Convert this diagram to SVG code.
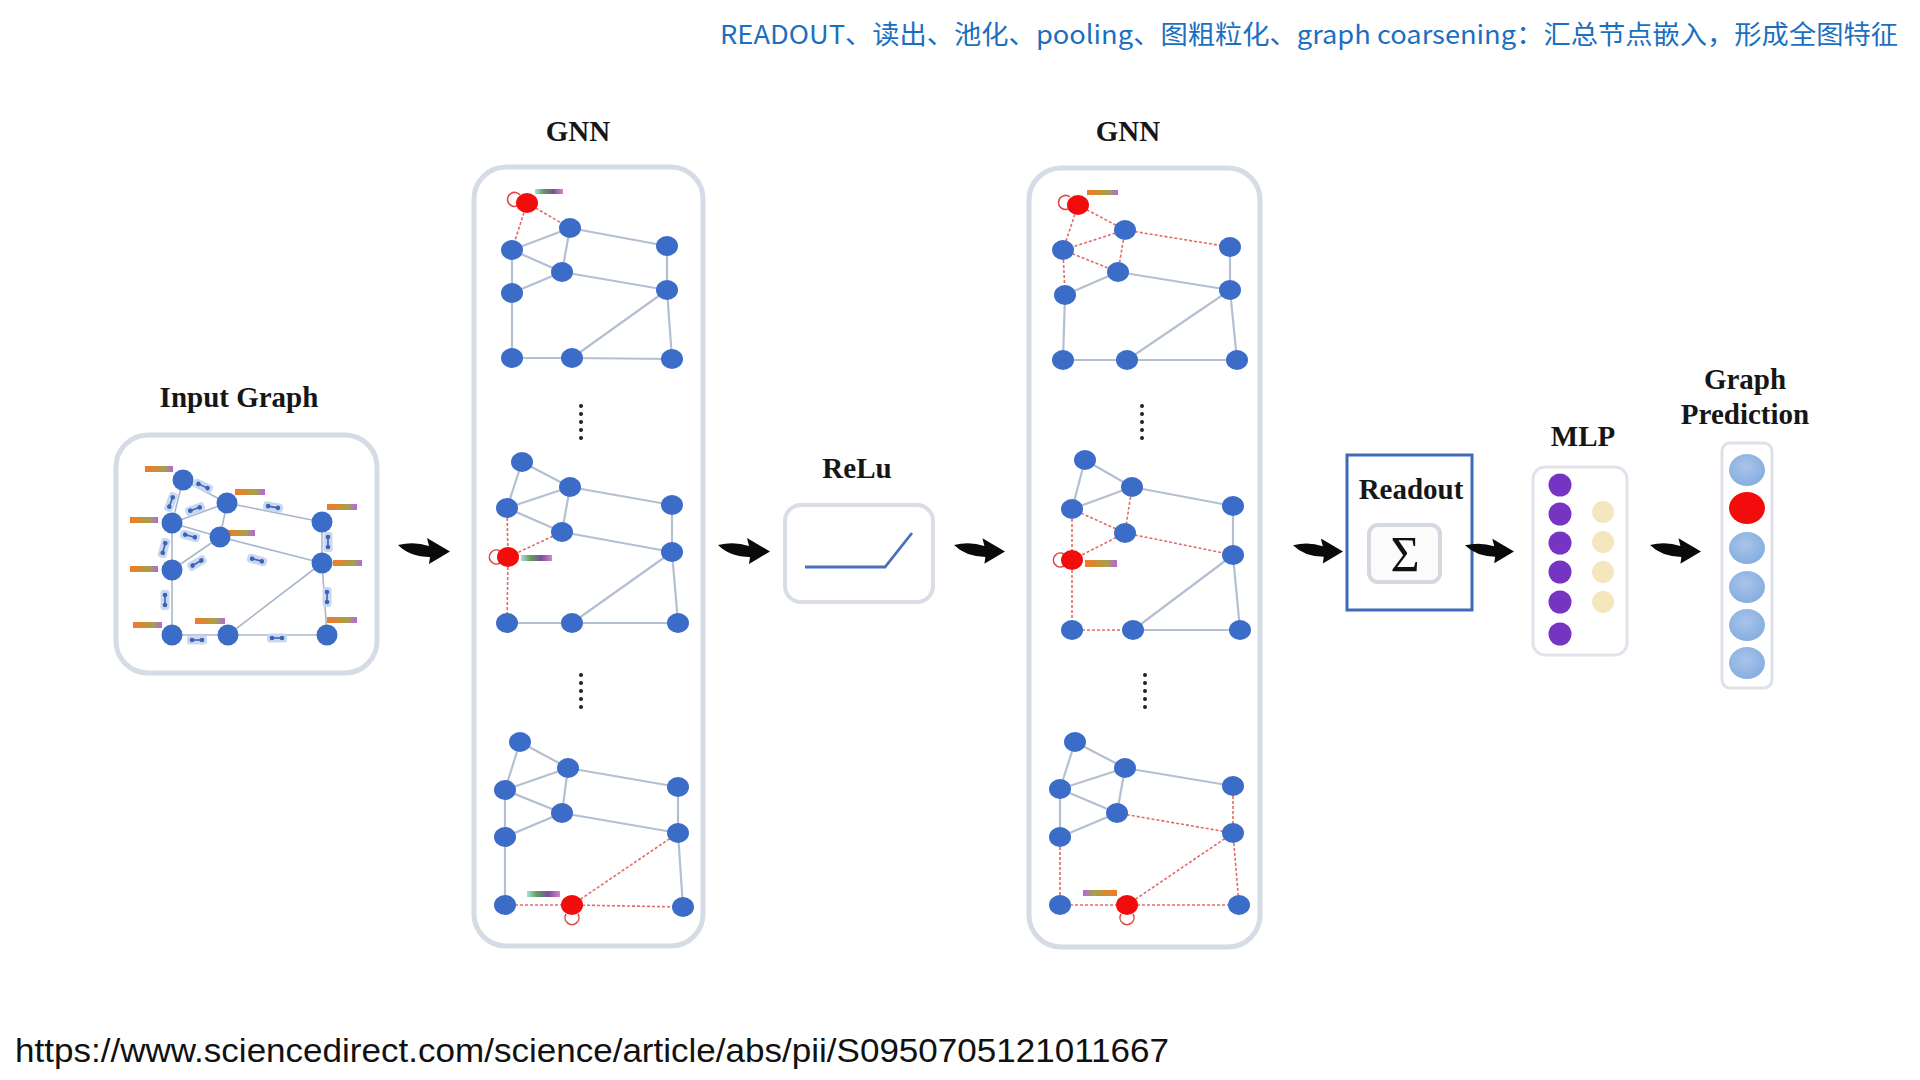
<svg xmlns="http://www.w3.org/2000/svg" xmlns:xlink="http://www.w3.org/1999/xlink" width="1920" height="1080" viewBox="0 0 1920 1080">
<style>
.lbl{font-family:"Liberation Serif","Times New Roman",serif;font-weight:bold;font-size:29px;fill:#161616;text-anchor:middle}
.panel{fill:#fff;stroke:#d6dce6;stroke-width:5}
.e{stroke:#b4c0d2;stroke-width:2.2;fill:none}
.ie{stroke:#a9b7cc;stroke-width:1.6;fill:none}
.rd{stroke:#e36a6a;stroke-width:1.6;stroke-dasharray:3 2;fill:none}
.n{fill:#3b6cc7}
.r{fill:#f20c0c}
.loop{fill:none;stroke:#e04848;stroke-width:1.6}
.dot{fill:#222}
.ico{fill:#c9d8f0}
.icl{stroke:#3c63b6;stroke-width:1.6}
</style>
<defs>
<linearGradient id="fb" x1="0" x2="1" y1="0" y2="0">
<stop offset="0" stop-color="#f07a2c"/><stop offset="0.35" stop-color="#d48a34"/><stop offset="0.68" stop-color="#a4a24c"/><stop offset="1" stop-color="#b565e0"/>
</linearGradient>
<linearGradient id="fb2" x1="0" x2="1" y1="0" y2="0">
<stop offset="0" stop-color="#a6e0e2"/><stop offset="0.3" stop-color="#5f9f5a"/><stop offset="0.65" stop-color="#7a4e9e"/><stop offset="1" stop-color="#d885c8"/>
</linearGradient>
<radialGradient id="pb" cx="0.45" cy="0.4" r="0.6">
<stop offset="0" stop-color="#a9c4ea"/><stop offset="1" stop-color="#86aee0"/>
</radialGradient>
<symbol id="arr" viewBox="0 0 52 26">
<path d="M0,7 Q16,3 31,8 L29,0 L52,13.5 L31,26 L32,19 Q12,19 0,7 Z" fill="#0a0a0a"/>
</symbol>
<g id="ic"><rect class="ico" x="-10" y="-4.5" width="20" height="9" rx="3"/><line class="icl" x1="-5" y1="0" x2="5" y2="0"/><circle cx="-5" cy="0" r="2.3" fill="#3c63b6"/><circle cx="5" cy="0" r="2.3" fill="#3c63b6"/></g>
</defs>
<rect width="1920" height="1080" fill="#ffffff"/>

<text x="1898" y="44" font-family="'Noto Sans CJK SC','Noto Sans',sans-serif" font-size="26" fill="#1c6fc0" text-anchor="end" textLength="1178" lengthAdjust="spacingAndGlyphs">READOUT、读出、池化、pooling、图粗粒化、graph coarsening：汇总节点嵌入，形成全图特征</text>

<!-- Input Graph -->
<g id="input-graph">
<text class="lbl" x="239" y="407" font-size="30">Input Graph</text>
<rect class="panel" x="116" y="435" width="261" height="238" rx="32"/>
<g>
<line class="ie" x1="183" y1="480" x2="227" y2="503"/>
<line class="ie" x1="183" y1="480" x2="172" y2="523"/>
<line class="ie" x1="227" y1="503" x2="172" y2="523"/>
<line class="ie" x1="227" y1="503" x2="220" y2="537"/>
<line class="ie" x1="172" y1="523" x2="220" y2="537"/>
<line class="ie" x1="227" y1="503" x2="322" y2="522"/>
<line class="ie" x1="220" y1="537" x2="322" y2="563"/>
<line class="ie" x1="172" y1="523" x2="172" y2="570"/>
<line class="ie" x1="220" y1="537" x2="172" y2="570"/>
<line class="ie" x1="322" y1="522" x2="322" y2="563"/>
<line class="ie" x1="322" y1="563" x2="228" y2="635"/>
<line class="ie" x1="322" y1="563" x2="327" y2="635"/>
<line class="ie" x1="172" y1="570" x2="172" y2="635"/>
<line class="ie" x1="172" y1="635" x2="228" y2="635"/>
<line class="ie" x1="228" y1="635" x2="327" y2="635"/>
</g>
<g>
<use xlink:href="#ic" transform="translate(203,486) rotate(25)"/>
<use xlink:href="#ic" transform="translate(171,502) rotate(-70)"/>
<use xlink:href="#ic" transform="translate(195,509) rotate(-20)"/>
<use xlink:href="#ic" transform="translate(273,507) rotate(10)"/>
<use xlink:href="#ic" transform="translate(190,536) rotate(15)"/>
<use xlink:href="#ic" transform="translate(197,563) rotate(-30)"/>
<use xlink:href="#ic" transform="translate(257,560) rotate(15)"/>
<use xlink:href="#ic" transform="translate(164,548) rotate(-75)"/>
<use xlink:href="#ic" transform="translate(328,542) rotate(90)"/>
<use xlink:href="#ic" transform="translate(165,600) rotate(90)"/>
<use xlink:href="#ic" transform="translate(327,597) rotate(90)"/>
<use xlink:href="#ic" transform="translate(197,640)"/>
<use xlink:href="#ic" transform="translate(277,638)"/>
</g>
<g fill="url(#fb)">
<rect x="145" y="466" width="28" height="6"/>
<rect x="235" y="489" width="30" height="6"/>
<rect x="130" y="517" width="28" height="6"/>
<rect x="227" y="530" width="28" height="6"/>
<rect x="327" y="504" width="30" height="6"/>
<rect x="333" y="560" width="29" height="6"/>
<rect x="130" y="566" width="28" height="6"/>
<rect x="133" y="622" width="29" height="6"/>
<rect x="195" y="618" width="30" height="6"/>
<rect x="327" y="617" width="30" height="6"/>
</g>
<g class="n">
<circle cx="183" cy="480" r="10.5"/><circle cx="227" cy="503" r="10.5"/><circle cx="172" cy="523" r="10.5"/><circle cx="220" cy="537" r="10.5"/><circle cx="322" cy="522" r="10.5"/><circle cx="322" cy="563" r="10.5"/><circle cx="172" cy="570" r="10.5"/><circle cx="172" cy="635" r="10.5"/><circle cx="228" cy="635" r="10.5"/><circle cx="327" cy="635" r="10.5"/>
</g>
</g>

<!-- GNN 1 -->
<g id="gnn-1">
<text class="lbl" x="578" y="141">GNN</text>
<rect class="panel" x="474" y="167" width="229" height="779" rx="32"/>
<g>
<line class="rd" x1="527" y1="203" x2="570" y2="228"/>
<line class="rd" x1="527" y1="203" x2="512" y2="250"/>
<line class="e" x1="570" y1="228" x2="512" y2="250"/>
<line class="e" x1="570" y1="228" x2="562" y2="272"/>
<line class="e" x1="512" y1="250" x2="562" y2="272"/>
<line class="e" x1="570" y1="228" x2="667" y2="246"/>
<line class="e" x1="562" y1="272" x2="667" y2="290"/>
<line class="e" x1="512" y1="250" x2="512" y2="293"/>
<line class="e" x1="562" y1="272" x2="512" y2="293"/>
<line class="e" x1="667" y1="246" x2="667" y2="290"/>
<line class="e" x1="667" y1="290" x2="572" y2="358"/>
<line class="e" x1="667" y1="290" x2="672" y2="359"/>
<line class="e" x1="512" y1="293" x2="512" y2="358"/>
<line class="e" x1="512" y1="358" x2="572" y2="358"/>
<line class="e" x1="572" y1="358" x2="672" y2="359"/>
<path class="loop" d="M520,195 A7,7 0 1 0 517,206"/>
<rect x="535" y="189" width="28" height="5" fill="url(#fb2)"/>
<ellipse class="r" cx="527" cy="203" rx="11" ry="10"/>
<g class="n"><ellipse cx="570" cy="228" rx="11" ry="10"/><ellipse cx="512" cy="250" rx="11" ry="10"/><ellipse cx="562" cy="272" rx="11" ry="10"/><ellipse cx="667" cy="246" rx="11" ry="10"/><ellipse cx="667" cy="290" rx="11" ry="10"/><ellipse cx="512" cy="293" rx="11" ry="10"/><ellipse cx="512" cy="358" rx="11" ry="10"/><ellipse cx="572" cy="358" rx="11" ry="10"/><ellipse cx="672" cy="359" rx="11" ry="10"/></g>
</g>
<g class="dot"><circle cx="581" cy="406" r="2"/><circle cx="581" cy="414" r="2"/><circle cx="581" cy="422" r="2"/><circle cx="581" cy="430" r="2"/><circle cx="581" cy="438" r="2"/></g>
<g>
<line class="e" x1="522" y1="462" x2="570" y2="487"/>
<line class="e" x1="522" y1="462" x2="507" y2="508"/>
<line class="e" x1="570" y1="487" x2="507" y2="508"/>
<line class="e" x1="570" y1="487" x2="562" y2="532"/>
<line class="e" x1="507" y1="508" x2="562" y2="532"/>
<line class="e" x1="570" y1="487" x2="672" y2="505"/>
<line class="e" x1="562" y1="532" x2="672" y2="552"/>
<line class="rd" x1="507" y1="508" x2="508" y2="557"/>
<line class="rd" x1="562" y1="532" x2="508" y2="557"/>
<line class="e" x1="672" y1="505" x2="672" y2="552"/>
<line class="e" x1="672" y1="552" x2="572" y2="623"/>
<line class="e" x1="672" y1="552" x2="678" y2="623"/>
<line class="rd" x1="508" y1="557" x2="507" y2="623"/>
<line class="e" x1="507" y1="623" x2="572" y2="623"/>
<line class="e" x1="572" y1="623" x2="678" y2="623"/>
<path class="loop" d="M500,551 A7,7 0 1 0 500,563"/>
<rect x="521" y="555" width="31" height="6" fill="url(#fb2)"/>
<ellipse class="r" cx="508" cy="557" rx="11" ry="10"/>
<g class="n"><ellipse cx="522" cy="462" rx="11" ry="10"/><ellipse cx="570" cy="487" rx="11" ry="10"/><ellipse cx="507" cy="508" rx="11" ry="10"/><ellipse cx="562" cy="532" rx="11" ry="10"/><ellipse cx="672" cy="505" rx="11" ry="10"/><ellipse cx="672" cy="552" rx="11" ry="10"/><ellipse cx="507" cy="623" rx="11" ry="10"/><ellipse cx="572" cy="623" rx="11" ry="10"/><ellipse cx="678" cy="623" rx="11" ry="10"/></g>
</g>
<g class="dot"><circle cx="581" cy="675" r="2"/><circle cx="581" cy="683" r="2"/><circle cx="581" cy="691" r="2"/><circle cx="581" cy="699" r="2"/><circle cx="581" cy="707" r="2"/></g>
<g>
<line class="e" x1="520" y1="742" x2="568" y2="768"/>
<line class="e" x1="520" y1="742" x2="505" y2="790"/>
<line class="e" x1="568" y1="768" x2="505" y2="790"/>
<line class="e" x1="568" y1="768" x2="562" y2="813"/>
<line class="e" x1="505" y1="790" x2="562" y2="813"/>
<line class="e" x1="568" y1="768" x2="678" y2="787"/>
<line class="e" x1="562" y1="813" x2="678" y2="833"/>
<line class="e" x1="505" y1="790" x2="505" y2="837"/>
<line class="e" x1="562" y1="813" x2="505" y2="837"/>
<line class="e" x1="678" y1="787" x2="678" y2="833"/>
<line class="rd" x1="678" y1="833" x2="572" y2="905"/>
<line class="e" x1="678" y1="833" x2="683" y2="907"/>
<line class="e" x1="505" y1="837" x2="505" y2="905"/>
<line class="rd" x1="505" y1="905" x2="572" y2="905"/>
<line class="rd" x1="572" y1="905" x2="683" y2="907"/>
<path class="loop" d="M566,914 A7,7 0 1 0 578,914"/>
<rect x="527" y="891" width="33" height="6" fill="url(#fb2)"/>
<ellipse class="r" cx="572" cy="905" rx="11" ry="10"/>
<g class="n"><ellipse cx="520" cy="742" rx="11" ry="10"/><ellipse cx="568" cy="768" rx="11" ry="10"/><ellipse cx="505" cy="790" rx="11" ry="10"/><ellipse cx="562" cy="813" rx="11" ry="10"/><ellipse cx="678" cy="787" rx="11" ry="10"/><ellipse cx="678" cy="833" rx="11" ry="10"/><ellipse cx="505" cy="837" rx="11" ry="10"/><ellipse cx="505" cy="905" rx="11" ry="10"/><ellipse cx="683" cy="907" rx="11" ry="10"/></g>
</g>
</g>

<!-- ReLu -->
<g id="relu">
<text class="lbl" x="857" y="478">ReLu</text>
<rect x="785" y="505" width="148" height="97" rx="16" fill="#fff" stroke="#d8dde6" stroke-width="4"/>
<polyline points="805,567 885,567 912,533" fill="none" stroke="#4a6fbf" stroke-width="2.8"/>
</g>

<!-- GNN 2 -->
<g id="gnn-2">
<text class="lbl" x="1128" y="141">GNN</text>
<rect class="panel" x="1029" y="168" width="231" height="779" rx="32"/>
<g>
<line class="rd" x1="1078" y1="205" x2="1125" y2="230"/>
<line class="rd" x1="1078" y1="205" x2="1063" y2="250"/>
<line class="rd" x1="1125" y1="230" x2="1063" y2="250"/>
<line class="rd" x1="1125" y1="230" x2="1118" y2="272"/>
<line class="rd" x1="1063" y1="250" x2="1118" y2="272"/>
<line class="rd" x1="1125" y1="230" x2="1230" y2="247"/>
<line class="e" x1="1118" y1="272" x2="1230" y2="290"/>
<line class="rd" x1="1063" y1="250" x2="1065" y2="295"/>
<line class="e" x1="1118" y1="272" x2="1065" y2="295"/>
<line class="e" x1="1230" y1="247" x2="1230" y2="290"/>
<line class="e" x1="1230" y1="290" x2="1127" y2="360"/>
<line class="e" x1="1230" y1="290" x2="1237" y2="360"/>
<line class="e" x1="1065" y1="295" x2="1063" y2="360"/>
<line class="e" x1="1063" y1="360" x2="1127" y2="360"/>
<line class="e" x1="1127" y1="360" x2="1237" y2="360"/>
<path class="loop" d="M1070,197 A7,7 0 1 0 1068,209"/>
<rect x="1087" y="190" width="31" height="5" fill="url(#fb)"/>
<ellipse class="r" cx="1078" cy="205" rx="11" ry="10"/>
<g class="n"><ellipse cx="1125" cy="230" rx="11" ry="10"/><ellipse cx="1063" cy="250" rx="11" ry="10"/><ellipse cx="1118" cy="272" rx="11" ry="10"/><ellipse cx="1230" cy="247" rx="11" ry="10"/><ellipse cx="1230" cy="290" rx="11" ry="10"/><ellipse cx="1065" cy="295" rx="11" ry="10"/><ellipse cx="1063" cy="360" rx="11" ry="10"/><ellipse cx="1127" cy="360" rx="11" ry="10"/><ellipse cx="1237" cy="360" rx="11" ry="10"/></g>
</g>
<g class="dot"><circle cx="1142" cy="406" r="2"/><circle cx="1142" cy="414" r="2"/><circle cx="1142" cy="422" r="2"/><circle cx="1142" cy="430" r="2"/><circle cx="1142" cy="438" r="2"/></g>
<g>
<line class="e" x1="1085" y1="460" x2="1132" y2="487"/>
<line class="e" x1="1085" y1="460" x2="1072" y2="509"/>
<line class="e" x1="1132" y1="487" x2="1072" y2="509"/>
<line class="rd" x1="1132" y1="487" x2="1125" y2="533"/>
<line class="rd" x1="1072" y1="509" x2="1125" y2="533"/>
<line class="e" x1="1132" y1="487" x2="1233" y2="506"/>
<line class="rd" x1="1125" y1="533" x2="1233" y2="555"/>
<line class="rd" x1="1072" y1="509" x2="1072" y2="560"/>
<line class="rd" x1="1125" y1="533" x2="1072" y2="560"/>
<line class="e" x1="1233" y1="506" x2="1233" y2="555"/>
<line class="e" x1="1233" y1="555" x2="1133" y2="630"/>
<line class="e" x1="1233" y1="555" x2="1240" y2="630"/>
<line class="rd" x1="1072" y1="560" x2="1072" y2="630"/>
<line class="rd" x1="1072" y1="630" x2="1133" y2="630"/>
<line class="e" x1="1133" y1="630" x2="1240" y2="630"/>
<path class="loop" d="M1064,554 A7,7 0 1 0 1064,566"/>
<rect x="1085" y="560" width="32" height="7" fill="url(#fb)"/>
<ellipse class="r" cx="1072" cy="560" rx="11" ry="10"/>
<g class="n"><ellipse cx="1085" cy="460" rx="11" ry="10"/><ellipse cx="1132" cy="487" rx="11" ry="10"/><ellipse cx="1072" cy="509" rx="11" ry="10"/><ellipse cx="1125" cy="533" rx="11" ry="10"/><ellipse cx="1233" cy="506" rx="11" ry="10"/><ellipse cx="1233" cy="555" rx="11" ry="10"/><ellipse cx="1072" cy="630" rx="11" ry="10"/><ellipse cx="1133" cy="630" rx="11" ry="10"/><ellipse cx="1240" cy="630" rx="11" ry="10"/></g>
</g>
<g class="dot"><circle cx="1145" cy="675" r="2"/><circle cx="1145" cy="683" r="2"/><circle cx="1145" cy="691" r="2"/><circle cx="1145" cy="699" r="2"/><circle cx="1145" cy="707" r="2"/></g>
<g>
<line class="e" x1="1075" y1="742" x2="1125" y2="768"/>
<line class="e" x1="1075" y1="742" x2="1060" y2="789"/>
<line class="e" x1="1125" y1="768" x2="1060" y2="789"/>
<line class="e" x1="1125" y1="768" x2="1117" y2="813"/>
<line class="e" x1="1060" y1="789" x2="1117" y2="813"/>
<line class="e" x1="1125" y1="768" x2="1233" y2="786"/>
<line class="rd" x1="1117" y1="813" x2="1233" y2="833"/>
<line class="e" x1="1060" y1="789" x2="1060" y2="837"/>
<line class="e" x1="1117" y1="813" x2="1060" y2="837"/>
<line class="rd" x1="1233" y1="786" x2="1233" y2="833"/>
<line class="rd" x1="1233" y1="833" x2="1127" y2="905"/>
<line class="rd" x1="1233" y1="833" x2="1239" y2="905"/>
<line class="rd" x1="1060" y1="837" x2="1060" y2="905"/>
<line class="rd" x1="1060" y1="905" x2="1127" y2="905"/>
<line class="rd" x1="1127" y1="905" x2="1239" y2="905"/>
<path class="loop" d="M1121,914 A7,7 0 1 0 1133,914"/>
<rect x="1083" y="890" width="34" height="6" fill="url(#fb)" transform="rotate(180 1100 893)"/>
<ellipse class="r" cx="1127" cy="905" rx="11" ry="10"/>
<g class="n"><ellipse cx="1075" cy="742" rx="11" ry="10"/><ellipse cx="1125" cy="768" rx="11" ry="10"/><ellipse cx="1060" cy="789" rx="11" ry="10"/><ellipse cx="1117" cy="813" rx="11" ry="10"/><ellipse cx="1233" cy="786" rx="11" ry="10"/><ellipse cx="1233" cy="833" rx="11" ry="10"/><ellipse cx="1060" cy="837" rx="11" ry="10"/><ellipse cx="1060" cy="905" rx="11" ry="10"/><ellipse cx="1239" cy="905" rx="11" ry="10"/></g>
</g>
</g>

<!-- Readout -->
<g id="readout">
<rect x="1347" y="455" width="125" height="155" fill="none" stroke="#4069b8" stroke-width="3"/>
<text class="lbl" x="1411" y="499">Readout</text>
<rect x="1369" y="525" width="71" height="57" rx="9" fill="#fbfbfc" stroke="#d3d8e1" stroke-width="4"/>
<text x="1405" y="571" font-family="'Liberation Serif','Times New Roman',serif" font-size="50" fill="#111" text-anchor="middle">Σ</text>
</g>

<!-- MLP -->
<g id="mlp">
<text class="lbl" x="1583" y="446">MLP</text>
<rect x="1533" y="467" width="94" height="188" rx="12" fill="#fff" stroke="#e0e4ea" stroke-width="3"/>
<g fill="#7535c2">
<circle cx="1560" cy="485" r="11.5"/><circle cx="1560" cy="514" r="11.5"/><circle cx="1560" cy="543" r="11.5"/><circle cx="1560" cy="572" r="11.5"/><circle cx="1560" cy="602" r="11.5"/><circle cx="1560" cy="634" r="11.5"/>
</g>
<g fill="#f4e6bd">
<circle cx="1603" cy="512" r="11"/><circle cx="1603" cy="542" r="11"/><circle cx="1603" cy="572" r="11"/><circle cx="1603" cy="602" r="11"/>
</g>
</g>

<!-- Graph Prediction -->
<g id="graph-prediction">
<text class="lbl" x="1745" y="389">Graph</text>
<text class="lbl" x="1745" y="424">Prediction</text>
<rect x="1722" y="443" width="50" height="245" rx="8" fill="#fff" stroke="#dde2ea" stroke-width="3"/>
<ellipse cx="1747" cy="470" rx="18" ry="16" fill="url(#pb)"/>
<ellipse cx="1747" cy="508" rx="18" ry="16" fill="#f20c0c"/>
<ellipse cx="1747" cy="548" rx="18" ry="16" fill="url(#pb)"/>
<ellipse cx="1747" cy="587" rx="18" ry="16" fill="url(#pb)"/>
<ellipse cx="1747" cy="625" rx="18" ry="16" fill="url(#pb)"/>
<ellipse cx="1747" cy="663" rx="18" ry="16" fill="url(#pb)"/>
</g>

<!-- connectors -->
<g id="connectors">
<use xlink:href="#arr" x="398" y="538" width="52" height="26"/>
<use xlink:href="#arr" x="718" y="538" width="52" height="26"/>
<use xlink:href="#arr" x="954" y="538" width="51" height="26"/>
<use xlink:href="#arr" x="1293" y="538" width="50" height="26"/>
<use xlink:href="#arr" x="1465" y="538" width="49" height="26"/>
<use xlink:href="#arr" x="1650" y="538" width="51" height="26"/>
</g>

<text x="15" y="1062" font-family="'Liberation Sans',Arial,sans-serif" font-size="34" fill="#111" textLength="1154" lengthAdjust="spacingAndGlyphs">https://www.sciencedirect.com/science/article/abs/pii/S0950705121011667</text>
</svg>
